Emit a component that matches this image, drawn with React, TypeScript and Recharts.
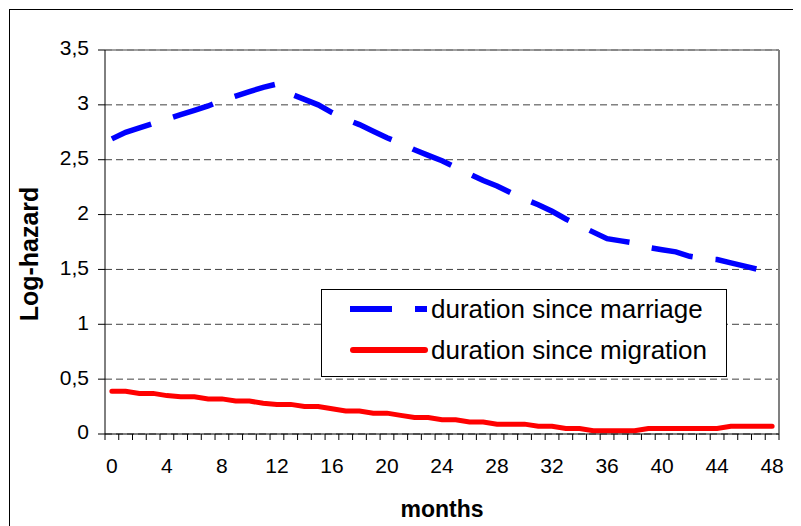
import { LineChart, Line, XAxis, YAxis, CartesianGrid, ReferenceLine, Legend } from "recharts";

const FONT = "'Liberation Sans', Arial, sans-serif";

// months 0..48, one category per month
const months = Array.from({ length: 49 }, (_, i) => i);
const monthLabels = [0, 4, 8, 12, 16, 20, 24, 28, 32, 36, 40, 44, 48];
const logHazardTicks = [0, 0.5, 1, 1.5, 2, 2.5, 3, 3.5];

const marriage = [
  2.69, 2.75, 2.79, 2.83, 2.87, 2.91, 2.95, 2.99, 3.04, 3.08,
  3.12, 3.16, 3.19, 3.1, 3.05, 3.0, 2.93, 2.87, 2.82, 2.76,
  2.7, 2.65, 2.59, 2.54, 2.49, 2.43, 2.37, 2.31, 2.26, 2.2,
  2.14, 2.09, 2.03, 1.96, 1.9, 1.84, 1.78, 1.76, 1.74, 1.7,
  1.68, 1.66, 1.62, 1.6, 1.59, 1.56, 1.53, 1.5, 1.46,
];
const migration = [
  0.39, 0.39, 0.37, 0.37, 0.35, 0.34, 0.34, 0.32, 0.32, 0.3,
  0.3, 0.28, 0.27, 0.27, 0.25, 0.25, 0.23, 0.21, 0.21, 0.19,
  0.19, 0.17, 0.15, 0.15, 0.13, 0.13, 0.11, 0.11, 0.09, 0.09,
  0.09, 0.07, 0.07, 0.05, 0.05, 0.03, 0.03, 0.03, 0.03, 0.05,
  0.05, 0.05, 0.05, 0.05, 0.05, 0.07, 0.07, 0.07, 0.07,
];

const data = months.map((month, i) => ({ month, marriage: marriage[i], migration: migration[i] }));
// tick marks sit between categories, like the Excel original
const slotEdges = [...months.map((m) => m - 0.5), months[months.length - 1] + 0.5];
const xDomain = [slotEdges[0], slotEdges[slotEdges.length - 1]];

const BLUE_DASH = "42 23";

function LegendBox() {
  return (
    <div style={{ width: 406, height: 88, boxSizing: "border-box", border: "1px solid #000", background: "#fff" }}>
      <svg width={404} height={86} style={{ display: "block" }}>
        <line x1={28} x2={105} y1={19} y2={19} stroke="#0000ff" strokeWidth={6} strokeDasharray={BLUE_DASH} />
        <text x={109} y={28} fontSize={26} fontFamily={FONT} fill="#000">duration since marriage</text>
        <line x1={31} x2={103} y1={60} y2={60} stroke="#ff0000" strokeWidth={6} strokeLinecap="round" />
        <text x={109} y={69} fontSize={26} fontFamily={FONT} fill="#000">duration since migration</text>
      </svg>
    </div>
  );
}

function YTitle(props: any) {
  const { viewBox } = props;
  const cy = viewBox.y + viewBox.height / 2 + 12;
  return (
    <text x={28} y={cy} transform={`rotate(-90, 28, ${cy})`} textAnchor="middle" fontSize={25} fontWeight="bold" fontFamily={FONT} fill="#000">
      Log-hazard
    </text>
  );
}

function XTitle(props: any) {
  const { viewBox } = props;
  return (
    <text x={viewBox.x + viewBox.width / 2} y={viewBox.y + 75} textAnchor="middle" fontSize={23} fontWeight="bold" fontFamily={FONT} fill="#000">
      months
    </text>
  );
}

export default function App() {
  return (
    <div style={{ position: "relative", left: 1, top: 1, width: 787, height: 520, border: "1px solid #000", overflow: "hidden", background: "#fff" }}>
      <LineChart width={787} height={520} data={data} margin={{ top: 40, right: 18, left: 0, bottom: 0 }} style={{ fontFamily: FONT }}>
        <CartesianGrid xAxisId="months" vertical={false} stroke="#404040" strokeDasharray="7 4" />
        <XAxis
          xAxisId="edges"
          type="number"
          dataKey="month"
          domain={xDomain}
          ticks={slotEdges}
          interval={0}
          tick={() => null}
          tickSize={6}
          height={8}
          axisLine={{ stroke: "#000" }}
          tickLine={{ stroke: "#000" }}
        />
        <XAxis
          xAxisId="months"
          type="number"
          dataKey="month"
          domain={xDomain}
          ticks={monthLabels}
          interval={0}
          axisLine={false}
          tickLine={false}
          tickSize={0}
          tickMargin={16}
          height={88}
          tick={{ fontSize: 21, fill: "#000", fontFamily: FONT }}
          label={{ content: XTitle }}
        />
        <YAxis
          type="number"
          domain={[0, 3.5]}
          ticks={logHazardTicks}
          interval={0}
          width={95}
          tickSize={7}
          tickMargin={9}
          axisLine={{ stroke: "#000" }}
          tickLine={{ stroke: "#000" }}
          tick={{ fontSize: 21, fill: "#000", fontFamily: FONT, dy: -2 }}
          tickFormatter={(v: number) => String(v).replace(".", ",")}
          label={{ content: YTitle }}
        />
        <ReferenceLine y={3.5} xAxisId="months" stroke="#808080" strokeWidth={1.5} />
        <ReferenceLine x={xDomain[1]} xAxisId="months" stroke="#808080" strokeWidth={2} />
        <Line
          xAxisId="months"
          dataKey="migration"
          name="duration since migration"
          stroke="#ff0000"
          strokeWidth={5}
          strokeLinecap="round"
          dot={false}
          isAnimationActive={false}
        />
        <Line
          xAxisId="months"
          dataKey="marriage"
          name="duration since marriage"
          stroke="#0000ff"
          strokeWidth={5.5}
          strokeDasharray={BLUE_DASH}
          strokeLinecap="butt"
          dot={false}
          isAnimationActive={false}
        />
        <Legend
          layout="horizontal"
          verticalAlign="middle"
          align="center"
          wrapperStyle={{ left: 311, top: 279, width: 406, height: 88 }}
          content={() => <LegendBox />}
        />
      </LineChart>
    </div>
  );
}
